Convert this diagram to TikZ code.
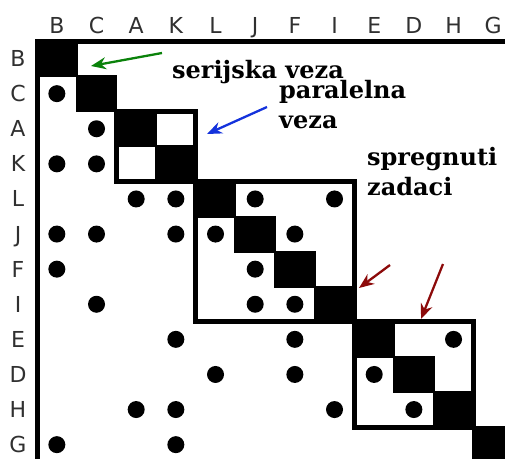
\documentclass[tikz,border=0pt]{standalone}
\usepackage{fontspec}
\setmainfont{DejaVu Serif}
\newfontfamily\lblfont{DejaVu Sans}
\usetikzlibrary{arrows.meta}
\definecolor{lblgray}{HTML}{303030}
\definecolor{arrgreen}{RGB}{10,130,10}
\definecolor{arrblue}{RGB}{20,50,220}
\definecolor{arrred}{RGB}{140,10,10}
\begin{document}
\begin{tikzpicture}[x=1pt,y=-1pt,
  diagcell/.style={rectangle,fill=black,inner sep=0pt,minimum width=41.67pt,minimum height=37.1pt},
  boxline/.style={draw=black,line width=5pt},
  dotnode/.style={circle,fill=black,inner sep=0pt,minimum size=17pt},
  hdr/.style={font=\lblfont\fontsize{22}{22}\selectfont,text=lblgray,inner sep=0pt,anchor=base},
  note/.style={font=\bfseries\fontsize{24}{30}\selectfont,text=black,align=left,inner sep=0pt,anchor=base west},
  pointer/.style={line width=2.3pt,-{Stealth[length=15pt,width=12pt]}}]
\def\cw{39.67}
\def\ch{35.1}
\def\ox{37}
\def\oy{41}
\useasboundingbox (0,0) rectangle (505,458);
\clip (0,0) rectangle (505,458);
% diagonal cells
\foreach \k in {0,...,11}
  \node[diagcell] (cell\k) at (\ox+\cw*\k+\cw/2,\oy+\ch*\k+\ch/2) {};
% frame
\draw[line width=5pt] (\ox,470) -- (\ox,\oy) -- (520,\oy);
% boxes
\draw[boxline] (\ox+\cw*2,\oy+\ch*2) rectangle (\ox+\cw*4,\oy+\ch*4);
\draw[boxline] (\ox+\cw*4,\oy+\ch*4) rectangle (\ox+\cw*8,\oy+\ch*8);
\draw[boxline] (\ox+\cw*8,\oy+\ch*8) rectangle (\ox+\cw*11,\oy+\ch*11);
% dots
\foreach \r/\c in {1/0, 2/1, 3/0, 3/1,
  4/2, 4/3, 4/5, 4/7,
  5/0, 5/1, 5/3, 5/4, 5/6,
  6/0, 6/5,
  7/1, 7/5, 7/6,
  8/3, 8/6, 8/10,
  9/4, 9/6, 9/8,
  10/2, 10/3, 10/7, 10/9,
  11/0, 11/3}
  \node[dotnode] (d\r-\c) at (\ox+\cw*\c+\cw/2,\oy+\ch*\r+\ch/2) {};
% labels
\foreach \n [count=\i from 0] in {B,C,A,K,L,J,F,I,E,D,H,G} {
  \node[hdr] (col\n) at (\ox+\cw*\i+\cw/2,33) {\n};
  \node[hdr] (row\n) at (18,\oy+\ch*\i+\ch/2+8) {\n};
}
% notes
\node[note] (ser) at (172,78) {serijska veza};
\node[note] (par) at (279,128) {paralelna\\veza};
\node[note] (spr) at (367,195) {spregnuti\\zadaci};
% arrows
\coordinate (gT) at (162,53);
\coordinate (gH) at (91,66);
\coordinate (bT) at (267,107);
\coordinate (bH) at (207,134);
\coordinate (r1T) at (390,265);
\coordinate (r1H) at (359,288);
\coordinate (r2T) at (443,264);
\coordinate (r2H) at (421,319);
\draw[pointer,arrgreen] (gT) -- (gH);
\draw[pointer,arrblue] (bT) -- (bH);
\draw[pointer,arrred] (r1T) -- (r1H);
\draw[pointer,arrred] (r2T) -- (r2H);
\end{tikzpicture}
\end{document}
